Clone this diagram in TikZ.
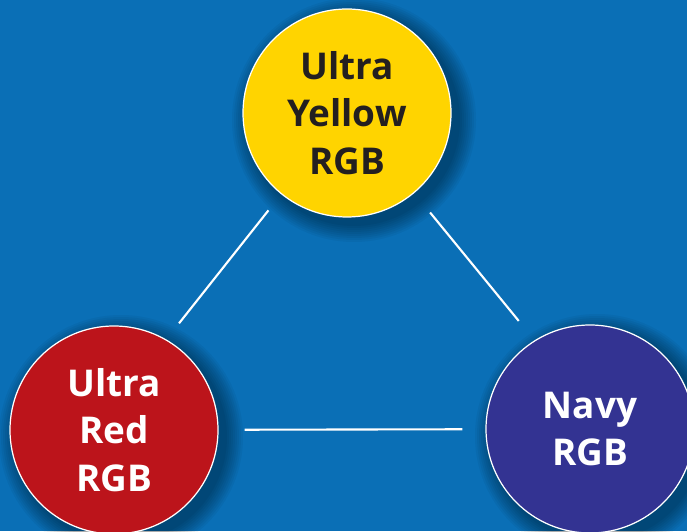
\documentclass[tikz,border=0pt]{standalone}
\usepackage{fontspec}
\setmainfont{Open Sans}
\definecolor{bgblue}{HTML}{0A6FB6}
\definecolor{ultrayellow}{HTML}{FFD400}
\definecolor{ultrared}{HTML}{BC141B}
\definecolor{navyrgb}{HTML}{333392}
\definecolor{darktext}{HTML}{231F20}

\begin{document}
\begin{tikzpicture}[-,thick,
    color node/.style={circle,draw=white,line width=0.7pt,minimum size=4.16cm,inner sep=0pt,align=center,font=\bfseries\fontsize{21}{27}\selectfont},
    link/.style={draw=white,line width=1.2pt}]

    \fill[bgblue] (0,0) rectangle (13.74,10.62);
    \useasboundingbox (0,0) rectangle (13.74,10.62);

    \coordinate (yc) at (6.94,8.36);
    \coordinate (rc) at (2.28,2.02);
    \coordinate (nc) at (11.80,2.04);

    % soft shadows
    \foreach \c in {yc,rc,nc}
        \foreach \r in {2.44,2.40,...,2.08}
            \fill[black,opacity=0.045] ([shift={(0.14,-0.14)}]\c) circle (\r);

    \node (yellow) [color node,fill=ultrayellow,text=darktext] at (yc) {Ultra\\Yellow\\RGB};
    \node (red) [color node,fill=ultrared,text=white] at (rc) {Ultra\\Red\\RGB};
    \node (navy) [color node,fill=navyrgb,text=white] at (nc) {Navy\\RGB};

    \path[link]
    (yellow.231) edge[shorten <=0.41cm,shorten >=0.41cm] (red.60)
    (yellow.310) edge[shorten <=0.5cm,shorten >=0.5cm] (navy.122)
    (red) edge[shorten <=0.52cm,shorten >=0.46cm] (navy)
        ;
\end{tikzpicture}
\end{document}
